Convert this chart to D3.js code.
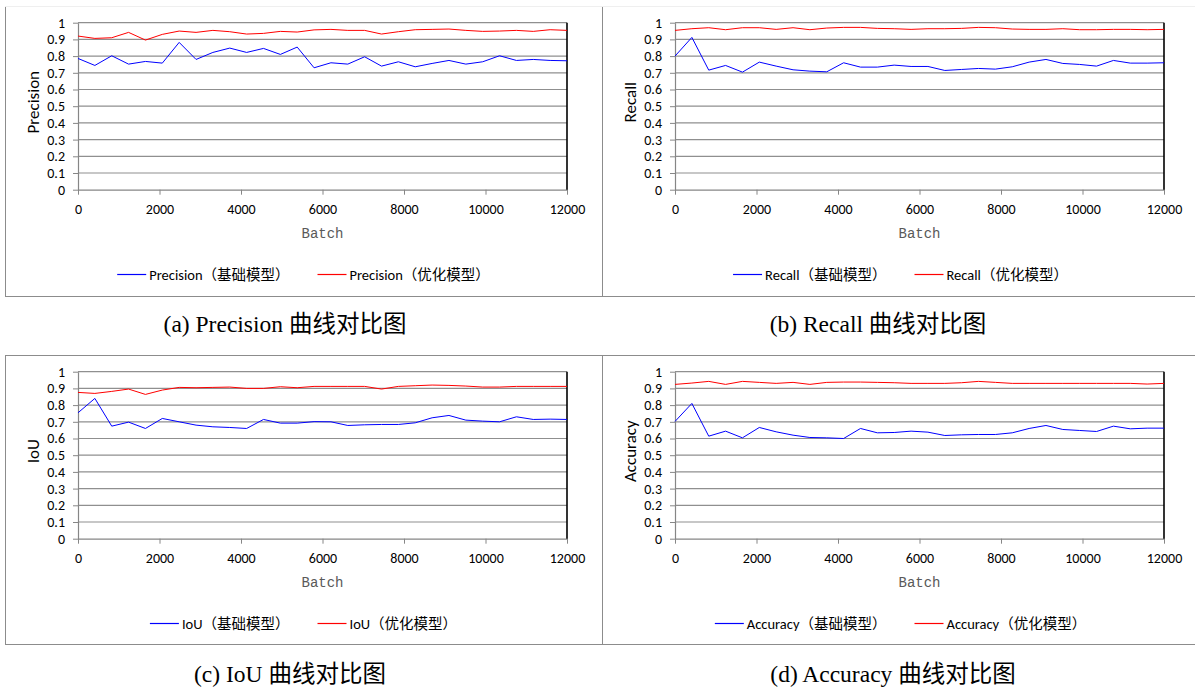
<!DOCTYPE html>
<html><head><meta charset="utf-8">
<script src="https://cdn.jsdelivr.net/npm/d3@7"></script>
<style>
body{margin:0;background:#fff;}
svg text{font-family: Carlito, Lato, "Noto Sans CJK SC", sans-serif;}
</style></head><body>
<svg id="chart" width="1195" height="687"></svg>
<script>
// ---- data ----
const batches = [0, 414, 828, 1241, 1655, 2069, 2483, 2897, 3310, 3724, 4138, 4552, 4966, 5379, 5793,
  6207, 6621, 7034, 7448, 7862, 8276, 8690, 9103, 9517, 9931, 10345, 10759, 11172, 11586, 12000];
const xTicks = [0, 2000, 4000, 6000, 8000, 10000, 12000];
const yTicks = [0, 0.1, 0.2, 0.3, 0.4, 0.5, 0.6, 0.7, 0.8, 0.9, 1];

const precisionBase = [0.786, 0.744, 0.802, 0.752, 0.768, 0.758, 0.882, 0.780, 0.822, 0.848, 0.822, 0.846, 0.810, 0.854, 0.730,
  0.760, 0.752, 0.796, 0.740, 0.766, 0.736, 0.756, 0.774, 0.752, 0.766, 0.802, 0.774, 0.780, 0.774, 0.772];
const precisionOpt = [0.920, 0.906, 0.910, 0.942, 0.896, 0.930, 0.950, 0.942, 0.954, 0.946, 0.932, 0.936, 0.948, 0.944, 0.957,
  0.960, 0.954, 0.954, 0.932, 0.946, 0.958, 0.960, 0.962, 0.954, 0.948, 0.950, 0.954, 0.948, 0.958, 0.954];
const recallBase = [0.800, 0.912, 0.716, 0.744, 0.704, 0.764, 0.740, 0.718, 0.710, 0.706, 0.760, 0.734, 0.734, 0.746, 0.738,
  0.738, 0.714, 0.720, 0.726, 0.722, 0.736, 0.764, 0.780, 0.756, 0.750, 0.740, 0.774, 0.758, 0.758, 0.760];
const recallOpt = [0.954, 0.964, 0.970, 0.958, 0.970, 0.970, 0.960, 0.970, 0.958, 0.968, 0.972, 0.972, 0.966, 0.964, 0.960,
  0.964, 0.964, 0.966, 0.972, 0.970, 0.962, 0.960, 0.960, 0.964, 0.958, 0.958, 0.960, 0.960, 0.958, 0.960];
const iouBase = [0.754, 0.840, 0.674, 0.698, 0.660, 0.720, 0.700, 0.680, 0.670, 0.666, 0.660, 0.714, 0.692, 0.692, 0.701,
  0.700, 0.678, 0.682, 0.684, 0.684, 0.694, 0.724, 0.738, 0.710, 0.704, 0.700, 0.730, 0.714, 0.716, 0.714];
const iouOpt = [0.876, 0.870, 0.882, 0.896, 0.864, 0.890, 0.906, 0.904, 0.906, 0.908, 0.900, 0.900, 0.910, 0.904, 0.912,
  0.912, 0.912, 0.912, 0.896, 0.912, 0.916, 0.920, 0.918, 0.914, 0.908, 0.908, 0.912, 0.912, 0.912, 0.912];
const accuracyBase = [0.702, 0.810, 0.614, 0.644, 0.604, 0.666, 0.640, 0.620, 0.606, 0.604, 0.600, 0.660, 0.634, 0.636, 0.644,
  0.638, 0.618, 0.622, 0.624, 0.624, 0.634, 0.660, 0.678, 0.654, 0.648, 0.642, 0.674, 0.658, 0.662, 0.662];
const accuracyOpt = [0.924, 0.932, 0.942, 0.924, 0.942, 0.936, 0.930, 0.936, 0.924, 0.936, 0.938, 0.938, 0.936, 0.934, 0.930,
  0.930, 0.930, 0.934, 0.942, 0.936, 0.930, 0.930, 0.930, 0.930, 0.930, 0.930, 0.930, 0.930, 0.926, 0.930];

// ---- layout ----
const svg = d3.select('#chart');
const panels = [
  {metric:'Precision', base:precisionBase, opt:precisionOpt, caption:'(a) Precision 曲线对比图', bx:5, by:6, bw:597, bh:290, capX:285, capY:332, faintTop:true},
  {metric:'Recall', base:recallBase, opt:recallOpt, caption:'(b) Recall 曲线对比图', bx:602, by:6, bw:597, bh:290, capX:878, capY:332, faintTop:true},
  {metric:'IoU', base:iouBase, opt:iouOpt, caption:'(c) IoU 曲线对比图', bx:5, by:355, bw:597, bh:289, capX:290, capY:682, faintTop:false},
  {metric:'Accuracy', base:accuracyBase, opt:accuracyOpt, caption:'(d) Accuracy 曲线对比图', bx:602, by:355, bw:597, bh:289, capX:893, capY:682, faintTop:false}
];
const axisColor = '#868686';

panels.forEach(p => {
  // borders
  const bg = svg.append('g');
  bg.append('line').attr('x1', p.bx + 0.5).attr('x2', p.bx + 0.5).attr('y1', p.by).attr('y2', p.by + p.bh)
    .attr('stroke', '#8c8c8c');
  bg.append('line').attr('x1', p.bx).attr('x2', p.bx + p.bw).attr('y1', p.by + p.bh + 0.5).attr('y2', p.by + p.bh + 0.5)
    .attr('stroke', '#8c8c8c');
  bg.append('line').attr('x1', p.bx).attr('x2', p.bx + p.bw).attr('y1', p.by + 0.5).attr('y2', p.by + 0.5)
    .attr('stroke', p.faintTop ? '#efefef' : '#8c8c8c');

  const g = svg.append('g').attr('transform', `translate(${p.bx},${p.by})`);
  const x = d3.scaleLinear().domain([0, 12000]).range([73, 562]);
  const y = d3.scaleLinear().domain([0, 1]).range([183.7, 16.7]);

  // gridlines
  g.append('g').selectAll('line').data(yTicks.filter(t => t > 0)).join('line')
    .attr('x1', x(0)).attr('x2', x(12000))
    .attr('y1', d => y(d)).attr('y2', d => y(d))
    .attr('stroke', '#8f8f8f').attr('stroke-width', 1.2);

  // axes
  const yAxis = d3.axisLeft(y).tickValues(yTicks)
    .tickFormat(d => (d === 0 || d === 1) ? String(d) : d.toFixed(1))
    .tickSize(5).tickSizeOuter(0).tickPadding(8);
  const xAxis = d3.axisBottom(x).tickValues(xTicks).tickFormat(d3.format('d'))
    .tickSize(5).tickSizeOuter(0).tickPadding(9);
  const ya = g.append('g').attr('transform', `translate(${x(0)},0)`).call(yAxis);
  const xa = g.append('g').attr('transform', `translate(0,${y(0)})`).call(xAxis);
  [ya, xa].forEach(a => {
    a.select('.domain').attr('stroke', axisColor).attr('stroke-width', 1.2);
    a.selectAll('.tick line').attr('stroke', axisColor);
    a.selectAll('.tick text').attr('fill', '#000').style('font-size', '14px')
      .style('font-family', 'Carlito, Lato, sans-serif');
  });

  // right border of plot area
  g.append('line').attr('x1', x(12000)).attr('x2', x(12000)).attr('y1', y(1)).attr('y2', y(0))
    .attr('stroke', '#000').attr('stroke-width', 1.6);

  // series
  const line = d3.line().x((d, i) => x(batches[i])).y(d => y(d));
  g.append('path').datum(p.base).attr('d', line).attr('fill', 'none').attr('stroke', '#0000ff').attr('stroke-width', 1);
  g.append('path').datum(p.opt).attr('d', line).attr('fill', 'none').attr('stroke', '#ff0000').attr('stroke-width', 1);

  // axis titles
  g.append('text').attr('transform', `translate(28,${(y(0) + y(1)) / 2 - 4}) rotate(-90)`)
    .attr('text-anchor', 'middle').attr('dominant-baseline', 'central')
    .style('font-size', '17px').attr('fill', '#000').text(p.metric);
  g.append('text').attr('x', (x(0) + x(12000)) / 2).attr('y', 231.5).attr('text-anchor', 'middle')
    .style('font-family', '"Liberation Mono", "DejaVu Sans Mono", monospace').style('font-size', '14px')
    .attr('fill', '#595959').text('Batch');

  // legend
  const items = [
    {label: p.metric + '（基础模型）', color: '#0000ff'},
    {label: p.metric + '（优化模型）', color: '#ff0000'}
  ];
  const lg = g.append('g');
  let cx = 0;
  items.forEach((it, i) => {
    const ig = lg.append('g').attr('transform', `translate(${cx},0)`);
    ig.append('line').attr('x1', 0).attr('x2', 29).attr('y1', 0).attr('y2', 0).attr('stroke', it.color).attr('stroke-width', 1.2);
    const t = ig.append('text').attr('x', 32).attr('y', 5).style('font-size', '14.5px').attr('fill', '#000').text(it.label);
    const w = t.node().getComputedTextLength();
    cx += 32 + w + (i === 0 ? 28 : 0);
  });
  lg.attr('transform', `translate(${p.bw / 2 - cx / 2},268.5)`);

  // caption
  svg.append('text').attr('x', p.capX).attr('y', p.capY).attr('text-anchor', 'middle')
    .style('font-family', '"Times New Roman", "Liberation Serif", "Noto Sans CJK SC", serif')
    .style('font-size', '23.5px').attr('fill', '#000').text(p.caption);
});
</script>
</body></html>
